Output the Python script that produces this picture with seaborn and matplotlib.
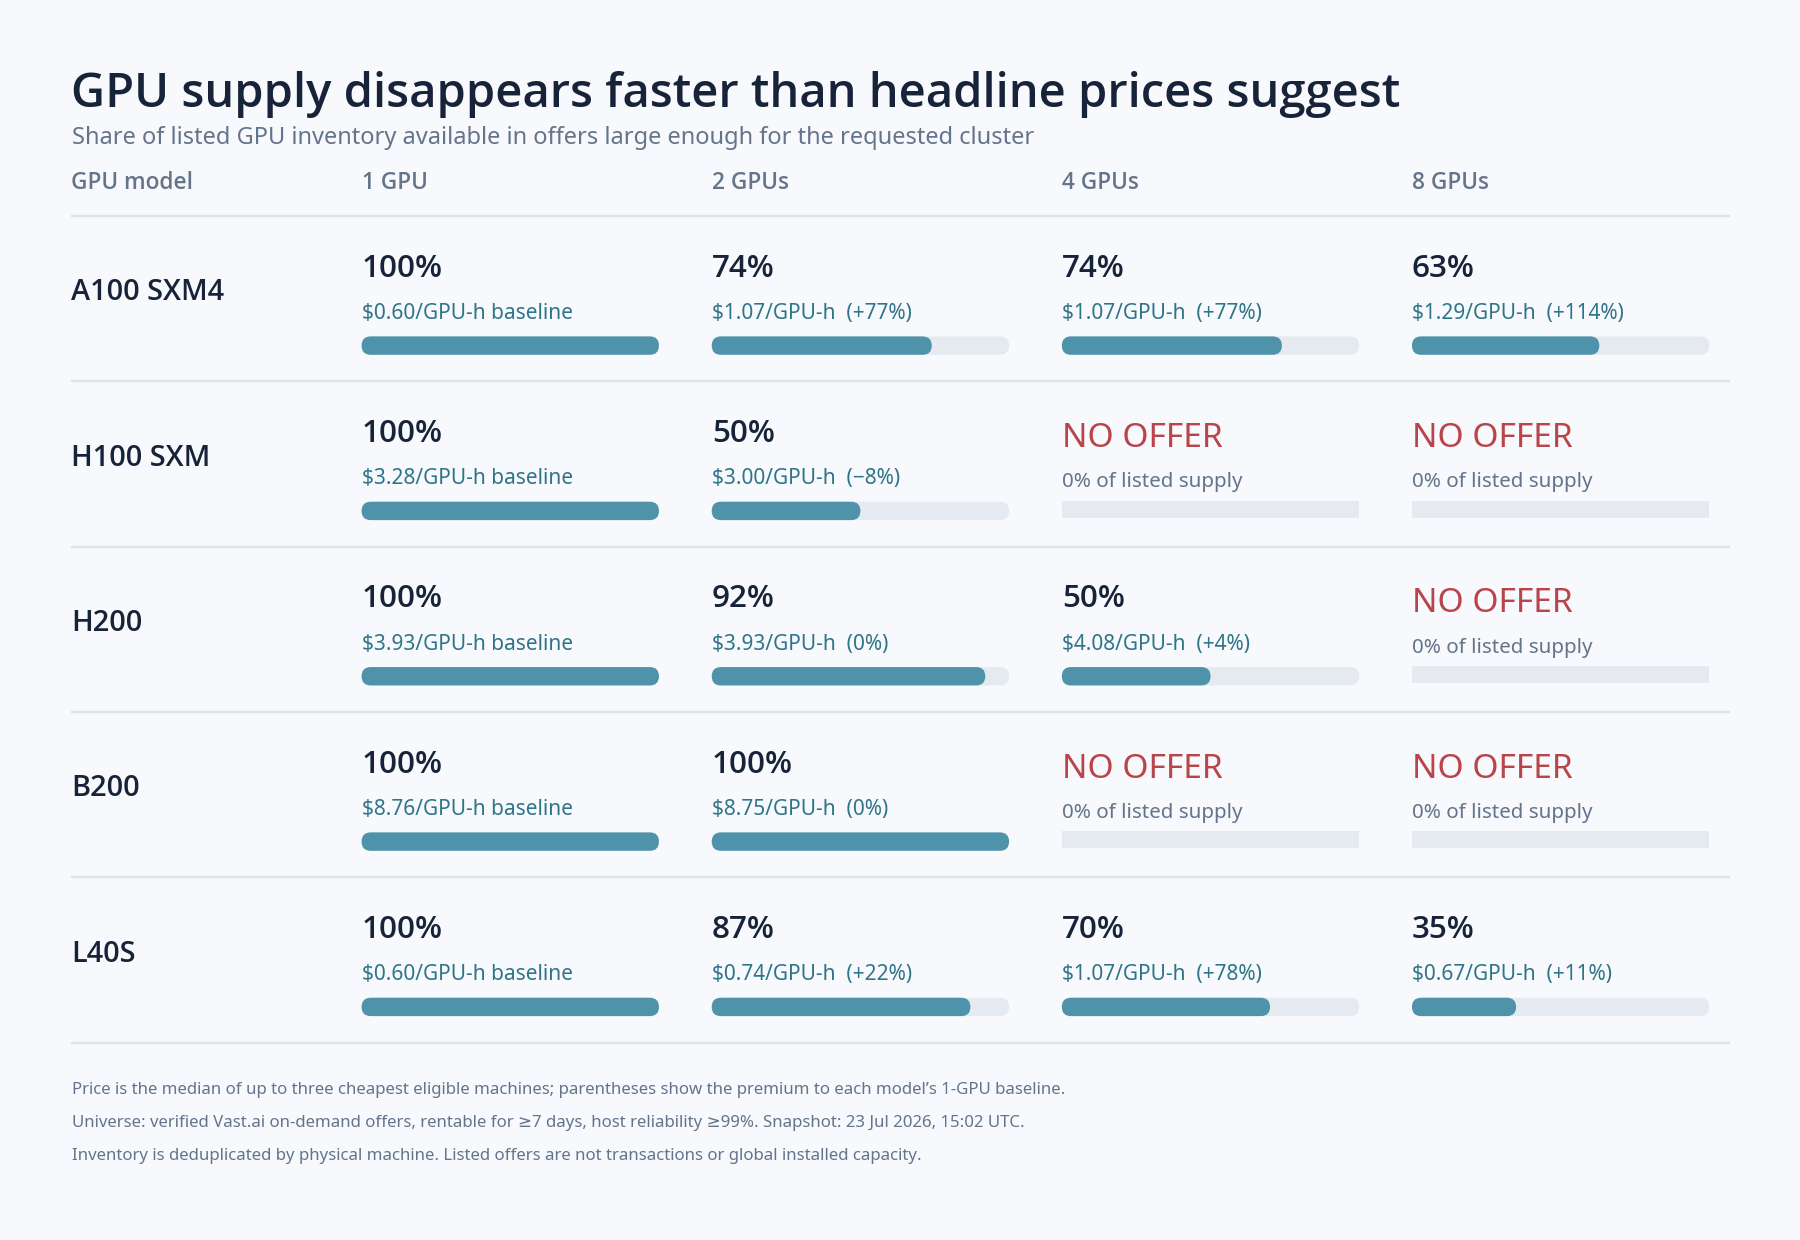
import numpy as np
import pandas as pd
import seaborn as sns
import matplotlib.pyplot as plt
from matplotlib.patches import FancyBboxPatch, Rectangle

# ---- data ----
models = ["A100 SXM4", "H100 SXM", "H200", "B200", "L40S"]
cluster_sizes = ["1 GPU", "2 GPUs", "4 GPUs", "8 GPUs"]
# share of listed inventory (%), None = no offer
share = [
    [100, 74, 74, 63],
    [100, 50, None, None],
    [100, 92, 50, None],
    [100, 100, None, None],
    [100, 87, 70, 35],
]
# median price, $/GPU-h
price = [
    [0.60, 1.07, 1.07, 1.29],
    [3.28, 3.00, None, None],
    [3.93, 3.93, 4.08, None],
    [8.76, 8.75, None, None],
    [0.60, 0.74, 1.07, 0.67],
]
# premium to 1-GPU baseline (%)
premium = [
    [None, 77, 77, 114],
    [None, -8, None, None],
    [None, 0, 4, None],
    [None, 0, None, None],
    [None, 22, 78, 11],
]

title = "GPU supply disappears faster than headline prices suggest"
subtitle = "Share of listed GPU inventory available in offers large enough for the requested cluster"
footnotes = [
    "Price is the median of up to three cheapest eligible machines; parentheses show the premium to each model\u2019s 1-GPU baseline.",
    "Universe: verified Vast.ai on-demand offers, rentable for \u22657 days, host reliability \u226599%. Snapshot: 23 Jul 2026, 15:02 UTC.",
    "Inventory is deduplicated by physical machine. Listed offers are not transactions or global installed capacity.",
]

# ---- styling ----
BG = "#f7f9fc"
NAVY = "#172338"
GREY = "#64748b"
TEAL_TXT = "#2f7589"
BAR = "#4f93aa"
TRACK = "#e5eaf0"
RULE = "#dce3eb"
RED = "#b9444a"

sns.set_theme(style="white")
plt.rcParams["font.family"] = ["Noto Sans", "DejaVu Sans"]
STRONG = ["Open Sans", "Noto Sans", "DejaVu Sans"]

fig = plt.figure(figsize=(18, 12.4), dpi=100, facecolor=BG)
ax = fig.add_axes([0, 0, 1, 1])
ax.set_facecolor(BG)
W, H = 1568, 1080
ax.set_xlim(0, W)
ax.set_ylim(H, 0)
ax.axis("off")

LEFT, RIGHT = 62, 1507
COL_X = [315, 620, 925, 1230]
BAR_W, BAR_H = 259, 16
HEAD_LINE = 188
ROW_H = 144

ax.text(LEFT, 82, title, fontsize=33.9, family=STRONG, fontweight="semibold",
        color=NAVY, va="center")
ax.text(LEFT + 1, 120, subtitle, fontsize=17, color=GREY, va="center")

ax.text(LEFT, 159, "GPU model", fontsize=16.3, family=STRONG, fontweight="semibold",
        color=GREY, va="center")
for cx, lab in zip(COL_X, cluster_sizes):
    ax.text(cx, 159, lab, fontsize=16.3, family=STRONG, fontweight="semibold",
            color=GREY, va="center")
ax.plot([LEFT, RIGHT], [HEAD_LINE, HEAD_LINE], color=RULE, lw=1.6, solid_capstyle="butt")

for i, model in enumerate(models):
    top = HEAD_LINE + i * ROW_H
    ax.text(LEFT, top + 67, model, fontsize=20.8, family=STRONG, fontweight="semibold",
            color=NAVY, va="center")
    for j, cx in enumerate(COL_X):
        s = share[i][j]
        if s is None:
            ax.text(cx, top + 50, "NO OFFER", fontsize=24.2, color=RED, va="center")
            ax.text(cx, top + 88, "0% of listed supply", fontsize=14.8, color=GREY, va="center")
            ax.add_patch(Rectangle((cx, top + 104), BAR_W, 15, facecolor=TRACK, edgecolor="none"))
            continue
        ax.text(cx, top + 46, f"{s}%", fontsize=22.6, family=STRONG, fontweight="semibold",
                color=NAVY, va="center")
        p = premium[i][j]
        if p is None:
            ptxt = f"${price[i][j]:.2f}/GPU-h baseline"
        else:
            sign = "+" if p > 0 else ("\u2212" if p < 0 else "")
            ptxt = f"${price[i][j]:.2f}/GPU-h  ({sign}{abs(p)}%)"
        ax.text(cx, top + 85, ptxt, fontsize=15, color=TEAL_TXT, va="center")
        y0 = top + 113 - BAR_H / 2
        r = BAR_H / 2
        ax.add_patch(FancyBboxPatch((cx, y0), BAR_W, BAR_H,
                                    boxstyle=f"round,pad=0,rounding_size={r}",
                                    facecolor=TRACK, edgecolor="none"))
        fill_w = BAR_W * s / 100
        ax.add_patch(FancyBboxPatch((cx, y0), fill_w, BAR_H,
                                    boxstyle=f"round,pad=0,rounding_size={r}",
                                    facecolor=BAR, edgecolor="none"))
    line_y = top + ROW_H
    ax.plot([LEFT, RIGHT], [line_y, line_y], color=RULE, lw=1.6, solid_capstyle="butt")

for k, note in enumerate(footnotes):
    ax.text(LEFT + 1, 949 + 29 * k, note, fontsize=12.1, color=GREY, va="center")

fig.savefig("out.png", dpi=100, facecolor=BG)
